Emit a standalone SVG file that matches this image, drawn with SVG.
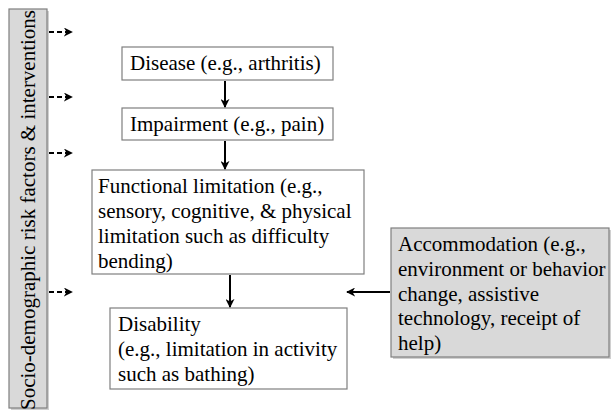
<svg xmlns="http://www.w3.org/2000/svg" width="611" height="416" viewBox="0 0 611 416">
<style>
.box{fill:#ffffff;stroke:#7f7f7f;stroke-width:1.2}
.gbox{fill:#d9d9d9;stroke:#7f7f7f;stroke-width:1.2}
.shadow{fill:#b0b0b0;opacity:0.6}
.arr{stroke:#000;stroke-width:2;fill:none}
.dash{stroke:#000;stroke-width:2;fill:none;stroke-dasharray:5,3}
</style>
<defs>
<marker id="ah2" viewBox="0 0 10 10" refX="9" refY="5" markerWidth="9" markerHeight="9" orient="auto" markerUnits="userSpaceOnUse">
<path d="M0,0 L10,5 L0,10 L3,5 Z" fill="#000"/>
</marker>
</defs>
<g font-family="Liberation Serif" font-size="21" fill="#000">
<g id="factors">
<rect class="shadow" x="11" y="11" width="38" height="399"/>
<rect class="gbox" x="9" y="9" width="38" height="399"/>
<text transform="translate(35,210) rotate(-90)" text-anchor="middle">Socio-demographic risk factors &amp; interventions</text>
</g>
<g id="disease">
<rect class="box" x="122" y="47" width="211" height="33"/>
<text x="130" y="70">Disease (e.g., arthritis)</text>
</g>
<g id="impairment">
<rect class="box" x="122" y="108" width="211" height="32"/>
<text x="130" y="131">Impairment (e.g., pain)</text>
</g>
<g id="functional">
<rect class="box" x="92" y="170" width="272" height="104"/>
<text x="98" y="193">Functional limitation (e.g.,</text>
<text x="98" y="218">sensory, cognitive, &amp; physical</text>
<text x="98" y="243">limitation such as difficulty</text>
<text x="98" y="268">bending)</text>
</g>
<g id="disability">
<rect class="box" x="110" y="308" width="237" height="81"/>
<text x="118" y="331">Disability</text>
<text x="118" y="356">(e.g., limitation in activity</text>
<text x="118" y="381">such as bathing)</text>
</g>
<g id="accommodation">
<rect class="shadow" x="393" y="230" width="218" height="129"/>
<rect class="gbox" x="391" y="228" width="218" height="129"/>
<text x="398" y="251">Accommodation (e.g.,</text>
<text x="398" y="276">environment or behavior</text>
<text x="398" y="301">change, assistive</text>
<text x="398" y="325">technology, receipt of</text>
<text x="398" y="350">help)</text>
</g>
</g>
<g id="connectors">
<line class="arr" x1="225" y1="81" x2="225" y2="107" marker-end="url(#ah2)"/>
<line class="arr" x1="225" y1="141" x2="225" y2="169" marker-end="url(#ah2)"/>
<line class="arr" x1="230" y1="275" x2="230" y2="307" marker-end="url(#ah2)"/>
<line class="arr" x1="390" y1="292" x2="347" y2="292" marker-end="url(#ah2)"/>
<line class="dash" x1="49" y1="32" x2="72" y2="32" marker-end="url(#ah2)"/>
<line class="dash" x1="49" y1="97" x2="72" y2="97" marker-end="url(#ah2)"/>
<line class="dash" x1="49" y1="153" x2="72" y2="153" marker-end="url(#ah2)"/>
<line class="dash" x1="49" y1="292" x2="72" y2="292" marker-end="url(#ah2)"/>
</g>
</svg>
